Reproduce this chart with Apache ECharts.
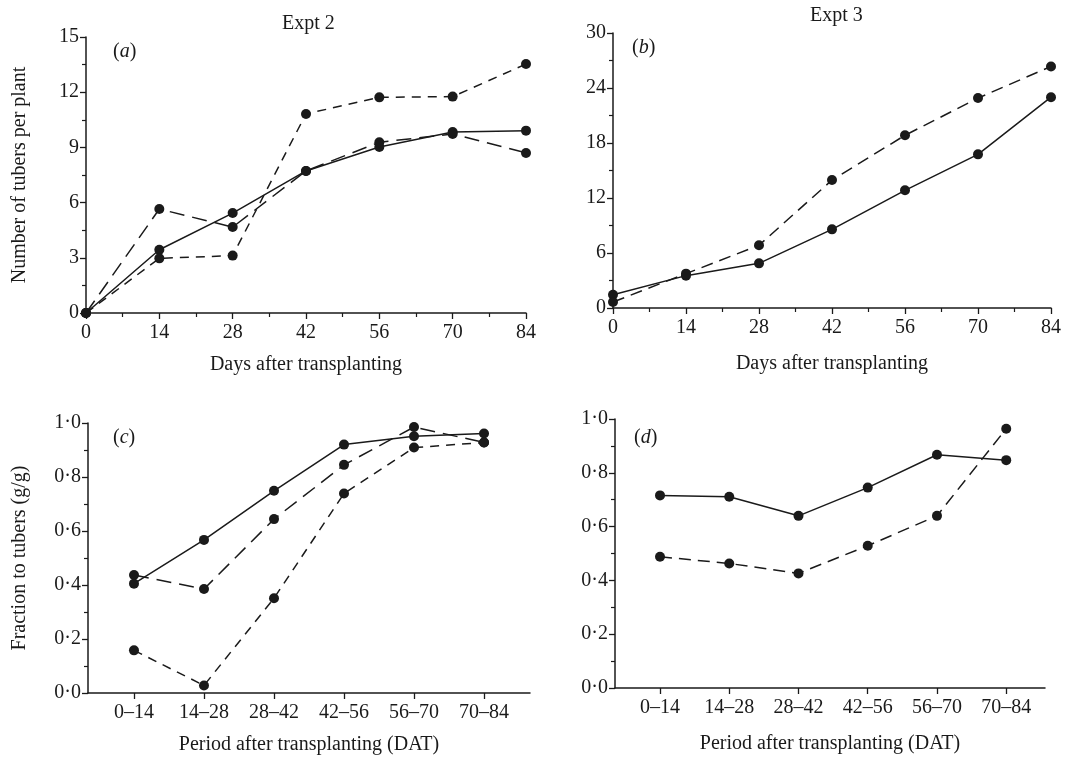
<!DOCTYPE html>
<html>
<head>
<meta charset="utf-8">
<script src="https://cdn.jsdelivr.net/npm/echarts@6/dist/echarts.min.js"></script>
<style>
html,body{margin:0;padding:0;background:#fff;}
#chart{width:1066px;height:759px;}
</style>
</head>
<body>
<div id="chart"></div>
<script>
// ---- data ----
const days = [0, 14, 28, 42, 56, 70, 84];
const aSolid = [0, 3.44, 5.43, 7.72, 9.02, 9.84, 9.91];
const aLongDash = [0, 5.65, 4.67, 7.72, 9.28, 9.73, 8.70];
const aShortDash = [0, 2.97, 3.12, 10.82, 11.72, 11.76, 13.53];

const bSolid = [1.45, 3.53, 4.87, 8.58, 12.84, 16.76, 23.0];
const bDash = [0.65, 3.75, 6.84, 13.96, 18.84, 22.9, 26.35];

const periods = ['0\u201314', '14\u201328', '28\u201342', '42\u201356', '56\u201370', '70\u201384'];
const cSolid = [0.405, 0.567, 0.749, 0.920, 0.951, 0.961];
const cLongDash = [0.437, 0.385, 0.644, 0.845, 0.985, 0.928];
const cShortDash = [0.158, 0.028, 0.351, 0.739, 0.909, 0.928];

const dSolid = [0.716, 0.711, 0.640, 0.745, 0.867, 0.847];
const dDash = [0.488, 0.463, 0.426, 0.529, 0.640, 0.964];

const yTicksA = [0, 3, 6, 9, 12, 15];
const yTicksB = [0, 6, 12, 18, 24, 30];
const yTicksCD = [0, 0.2, 0.4, 0.6, 0.8, 1.0];

// ---- styling ----
const FONT = '"Liberation Serif", "DejaVu Serif", serif';
const INK = '#1a1a1a';
const FS = 20;
const periodPos = periods.map((p, i) => i + 1);

function pairs(xs, ys) { return ys.map((v, i) => [xs[i], v]); }

function lineSeries(xi, data, dash) {
  return {
    type: 'line', xAxisIndex: xi, yAxisIndex: xi, data: data,
    symbol: 'circle', symbolSize: 10, clip: false,
    itemStyle: { color: INK },
    lineStyle: { color: INK, width: 1.5, type: dash || 'solid' },
    z: 3
  };
}
const LONG = [15, 8];
const SHORT = [9, 7];

function axisCommon() {
  return {
    axisLine: { show: true, lineStyle: { color: INK, width: 1.5 } },
    axisTick: { show: true, inside: false, length: 6, lineStyle: { color: INK, width: 1.3 } },
    minorTick: { show: true, splitNumber: 2, length: 4, lineStyle: { color: INK, width: 1.2 } },
    splitLine: { show: false },
    axisLabel: { color: INK, fontFamily: FONT, fontSize: FS },
    nameTextStyle: { color: INK, fontFamily: FONT, fontSize: FS }
  };
}

function dotFmt(v) { return v.toFixed(1).replace('.', '\u00b7'); }

const grids = [
  { left: 86, top: 37, width: 440, height: 276 },
  { left: 613, top: 33, width: 438, height: 275 },
  { left: 88, top: 423, width: 442, height: 270 },
  { left: 615, top: 419, width: 430, height: 269 }
];

const xAxes = [
  Object.assign(axisCommon(), { gridIndex: 0, type: 'value', min: days[0], max: days[days.length - 1], interval: 14,
    name: 'Days after transplanting', nameLocation: 'middle', nameGap: 42 }),
  Object.assign(axisCommon(), { gridIndex: 1, type: 'value', min: days[0], max: days[days.length - 1], interval: 14,
    name: 'Days after transplanting', nameLocation: 'middle', nameGap: 46 }),
  Object.assign(axisCommon(), { gridIndex: 2, type: 'value', min: 0.343, max: 6.657,
    name: 'Period after transplanting (DAT)', nameLocation: 'middle', nameGap: 42 }),
  Object.assign(axisCommon(), { gridIndex: 3, type: 'value', min: 0.35, max: 6.56,
    name: 'Period after transplanting (DAT)', nameLocation: 'middle', nameGap: 46 })
];
xAxes.forEach((ax, i) => {
  ax.axisLabel = Object.assign({}, ax.axisLabel, { margin: 10 });
  if (i >= 2) {
    ax.minorTick = { show: false };
    ax.axisTick = Object.assign({}, ax.axisTick, { customValues: periodPos });
    ax.axisLabel = Object.assign({}, ax.axisLabel, { customValues: periodPos,
      formatter: v => periods[Math.round(v) - 1] || '' });
  } else {
    ax.axisLabel.showMinLabel = true; ax.axisLabel.showMaxLabel = true;
  }
});

const yAxes = [
  Object.assign(axisCommon(), { gridIndex: 0, type: 'value', min: yTicksA[0], max: yTicksA[yTicksA.length - 1], interval: 3,
    name: 'Number of tubers per plant', nameLocation: 'middle', nameGap: 56 }),
  Object.assign(axisCommon(), { gridIndex: 1, type: 'value', min: yTicksB[0], max: yTicksB[yTicksB.length - 1], interval: 6 }),
  Object.assign(axisCommon(), { gridIndex: 2, type: 'value', min: yTicksCD[0], max: yTicksCD[yTicksCD.length - 1], interval: 0.2,
    name: 'Fraction to tubers (g/g)', nameLocation: 'middle', nameGap: 58 }),
  Object.assign(axisCommon(), { gridIndex: 3, type: 'value', min: yTicksCD[0], max: yTicksCD[yTicksCD.length - 1], interval: 0.2 })
];
yAxes.forEach((ax, i) => {
  ax.axisLabel = Object.assign({}, ax.axisLabel, { margin: 7 });
  if (i >= 2) ax.axisLabel.formatter = dotFmt;
});

function panelLabel(letter, left, top) {
  return {
    text: '{n|(}{i|' + letter + '}{n|)}', left: left, top: top,
    textStyle: { fontWeight: 'normal', rich: {
      n: { fontFamily: FONT, fontSize: FS, fontWeight: 'normal', color: INK },
      i: { fontFamily: FONT, fontSize: FS, fontStyle: 'italic', fontWeight: 'normal', color: INK }
    } }
  };
}

const option = {
  backgroundColor: '#ffffff',
  animation: false,
  title: [
    { text: 'Expt 2', left: 277, top: 9, textStyle: { fontFamily: FONT, fontSize: FS, fontWeight: 'normal', color: INK } },
    { text: 'Expt 3', left: 805, top: 1, textStyle: { fontFamily: FONT, fontSize: FS, fontWeight: 'normal', color: INK } },
    panelLabel('a', 108, 37),
    panelLabel('b', 627, 33),
    panelLabel('c', 108, 423),
    panelLabel('d', 629, 423)
  ],
  grid: grids,
  xAxis: xAxes,
  yAxis: yAxes,
  series: [
    lineSeries(0, pairs(days, aSolid)),
    lineSeries(0, pairs(days, aLongDash), LONG),
    lineSeries(0, pairs(days, aShortDash), SHORT),
    lineSeries(1, pairs(days, bSolid)),
    lineSeries(1, pairs(days, bDash), [12, 7]),
    lineSeries(2, pairs(periodPos, cSolid)),
    lineSeries(2, pairs(periodPos, cLongDash), LONG),
    lineSeries(2, pairs(periodPos, cShortDash), SHORT),
    lineSeries(3, pairs(periodPos, dSolid)),
    lineSeries(3, pairs(periodPos, dDash), [12, 7])
  ]
};

const chart = echarts.init(document.getElementById('chart'), null, { renderer: 'canvas' });
chart.setOption(option);
</script>
</body>
</html>
